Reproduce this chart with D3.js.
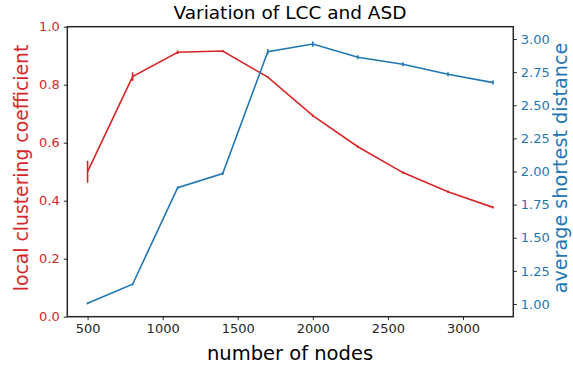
<!DOCTYPE html>
<html>
<head>
<meta charset="utf-8">
<script src="https://cdn.jsdelivr.net/npm/d3@7"></script>
<style>
  body { margin: 0; background: #fff; }
  text { font-family: "DejaVu Sans", sans-serif; }
</style>
</head>
<body>
<svg id="chart" width="573" height="366"></svg>
<script>
// ---- data ----
var nodes = [500, 800, 1100, 1400, 1700, 2000, 2300, 2600, 2900, 3200];
var lcc    = [0.500, 0.828, 0.912, 0.916, 0.826, 0.693, 0.586, 0.497, 0.431, 0.377];
var lccErr = [0.038, 0.015, 0.006, 0.004, 0.004, 0.004, 0.004, 0.004, 0.004, 0.004];
var asd    = [1.005, 1.149, 1.878, 1.985, 2.904, 2.962, 2.862, 2.809, 2.734, 2.671];
var asdErr = [0.008, 0.008, 0.010, 0.010, 0.020, 0.020, 0.015, 0.015, 0.015, 0.015];
var xTicks = [500, 1000, 1500, 2000, 2500, 3000];
var lccTicks = [0, 0.2, 0.4, 0.6, 0.8, 1.0];
var asdTicks = [1.00, 1.25, 1.50, 1.75, 2.00, 2.25, 2.50, 2.75, 3.00];

var red = "#d62728", blue = "#1f77b4";

var svg = d3.select("#chart");
var pLeft = 67.3, pRight = 513.3, pTop = 26.7, pBottom = 316.7;

// ---- scales ----
var x = d3.scaleLinear().domain([365, 3335]).range([pLeft, pRight]);
var yL = d3.scaleLinear().domain([0, 1]).range([pBottom, pTop]);
var yR = d3.scaleLinear().domain([0.904, 3.093]).range([pBottom, pTop]);

// ---- axes ----
var gx = svg.append("g")
  .attr("transform", "translate(0," + pBottom + ")")
  .call(d3.axisBottom(x).tickValues(xTicks).tickFormat(d3.format("d")).tickSize(3.5).tickPadding(4));

var gl = svg.append("g")
  .attr("transform", "translate(" + pLeft + ",0)")
  .call(d3.axisLeft(yL).tickValues(lccTicks).tickFormat(d3.format(".1f")).tickSize(3.5).tickPadding(4));

var gr = svg.append("g")
  .attr("transform", "translate(" + pRight + ",0)")
  .call(d3.axisRight(yR).tickValues(asdTicks).tickFormat(d3.format(".2f")).tickSize(3.5).tickPadding(4));

[gx, gl, gr].forEach(function(g) {
  g.select(".domain").remove();
  g.selectAll(".tick line").attr("stroke", "#262626").attr("stroke-width", 1);
  g.selectAll(".tick text").style("font-size", "13px").attr("fill", "#262626");
});
gl.selectAll(".tick text").attr("fill", red);
gr.selectAll(".tick text").attr("fill", blue);

// frame
svg.append("rect")
  .attr("x", pLeft).attr("y", pTop)
  .attr("width", pRight - pLeft).attr("height", pBottom - pTop)
  .attr("fill", "none").attr("stroke", "#262626").attr("stroke-width", 1.5);

// ---- series ----
function drawSeries(vals, errs, yScale, color) {
  var pts = nodes.map(function(n, i) { return { x: n, y: vals[i], e: errs[i] }; });
  var line = d3.line().x(function(d) { return x(d.x); }).y(function(d) { return yScale(d.y); });
  svg.append("path").datum(pts)
    .attr("d", line).attr("fill", "none")
    .attr("stroke", color).attr("stroke-width", 1.6);
  svg.append("g").selectAll("line").data(pts).enter().append("line")
    .attr("x1", function(d) { return x(d.x); }).attr("x2", function(d) { return x(d.x); })
    .attr("y1", function(d) { return yScale(d.y - d.e); })
    .attr("y2", function(d) { return yScale(d.y + d.e); })
    .attr("stroke", color).attr("stroke-width", 1.6);
}
drawSeries(lcc, lccErr, yL, red);
drawSeries(asd, asdErr, yR, blue);

// ---- labels ----
svg.append("text")
  .attr("x", 290).attr("y", 19)
  .attr("text-anchor", "middle")
  .style("font-size", "18.5px").attr("fill", "#000")
  .text("Variation of LCC and ASD");

svg.append("text")
  .attr("x", 290).attr("y", 360)
  .attr("text-anchor", "middle")
  .style("font-size", "19.5px").attr("fill", "#000")
  .text("number of nodes");

svg.append("text")
  .attr("transform", "translate(28,168) rotate(-90)")
  .attr("text-anchor", "middle")
  .style("font-size", "18.8px").attr("fill", red)
  .text("local clustering coefficient");

svg.append("text")
  .attr("transform", "translate(567,168) rotate(-90)")
  .attr("text-anchor", "middle")
  .style("font-size", "19.2px").attr("fill", blue)
  .text("average shortest distance");
</script>
</body>
</html>
